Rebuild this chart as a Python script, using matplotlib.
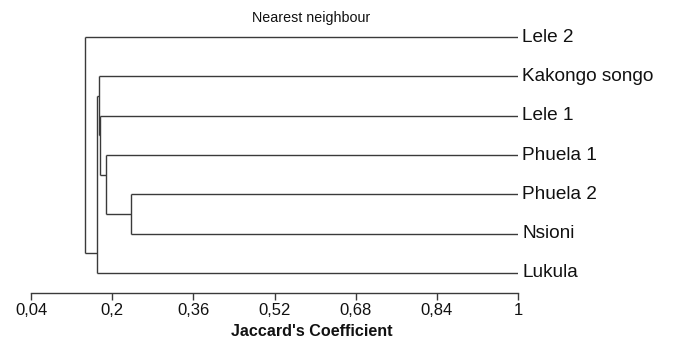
import matplotlib
matplotlib.use("Agg")
import matplotlib.pyplot as plt

plt.rcParams['font.family'] = ['Liberation Sans', 'DejaVu Sans']

# leaves, top to bottom
leaves = ["Lele 2", "Kakongo songo", "Lele 1", "Phuela 1", "Phuela 2", "Nsioni", "Lukula"]

# merges: (left child, right child, similarity); children >= len(leaves) are earlier merges
merges = [
  (4, 5, 0.237),   # Phuela 2 + Nsioni
  (3, 7, 0.187),   # Phuela 1 + (..)
  (2, 8, 0.176),   # Lele 1 + (..)
  (1, 9, 0.175),   # Kakongo songo + (..)
  (10, 6, 0.171),  # (..) + Lukula
  (0, 11, 0.146),  # Lele 2 + (..)
]

tick_values = [0.04, 0.2, 0.36, 0.52, 0.68, 0.84, 1.0]
tick_labels = ["0,04", "0,2", "0,36", "0,52", "0,68", "0,84", "1"]

line_col = "#3a3a3a"

fig = plt.figure(figsize=(6.73, 3.48), dpi=100)
ax = fig.add_axes([31/673, 55/348, 487/673, 276/348])

n = len(leaves)
height = {}   # node -> similarity at which it was formed
span = {}     # node -> (first leaf, last leaf)
link_y = {}   # node -> y where the line to its parent starts
for i in range(n):
  height[i] = 1.0
  span[i] = (i, i)
  link_y[i] = i

for k, (a, b, h) in enumerate(merges):
  node = n + k
  # horizontal lines from the children to this node
  for c in (a, b):
    ax.plot([height[c], h], [link_y[c], link_y[c]], color=line_col, lw=1.0, solid_capstyle="butt")
  # vertical connector
  ax.plot([h, h], [link_y[a], link_y[b]], color=line_col, lw=1.0, solid_capstyle="butt")
  height[node] = h
  span[node] = (span[a][0], span[b][1])
  link_y[node] = (span[a][1] + span[b][0]) / 2.0

for i, name in enumerate(leaves):
  ax.annotate(name, (1.0, i), xytext=(4, 0), textcoords="offset pixels",
              ha="left", va="center", fontsize=13.7, color="#111111", annotation_clip=False)

ax.set_xlim(0.04, 1.0)
ax.set_ylim(6.51, -0.51)
ax.set_xticks(tick_values)
ax.set_xticklabels(tick_labels, fontsize=12, color="#111111")
ax.set_yticks([])
ax.tick_params(axis="x", direction="out", length=5, width=1, color=line_col, pad=2)
for side in ("top", "left", "right"):
  ax.spines[side].set_visible(False)
ax.spines["bottom"].set_color(line_col)
ax.spines["bottom"].set_linewidth(1.0)

fig.text(311/673, 1 - 18/348, "Nearest neighbour", ha="center", va="center", fontsize=10.3, color="#111111")
fig.text(312/673, 1 - 331/348, "Jaccard's Coefficient", ha="center", va="center",
         fontsize=11.6, fontweight="bold", color="#111111")

fig.savefig("out.png", dpi=100)
